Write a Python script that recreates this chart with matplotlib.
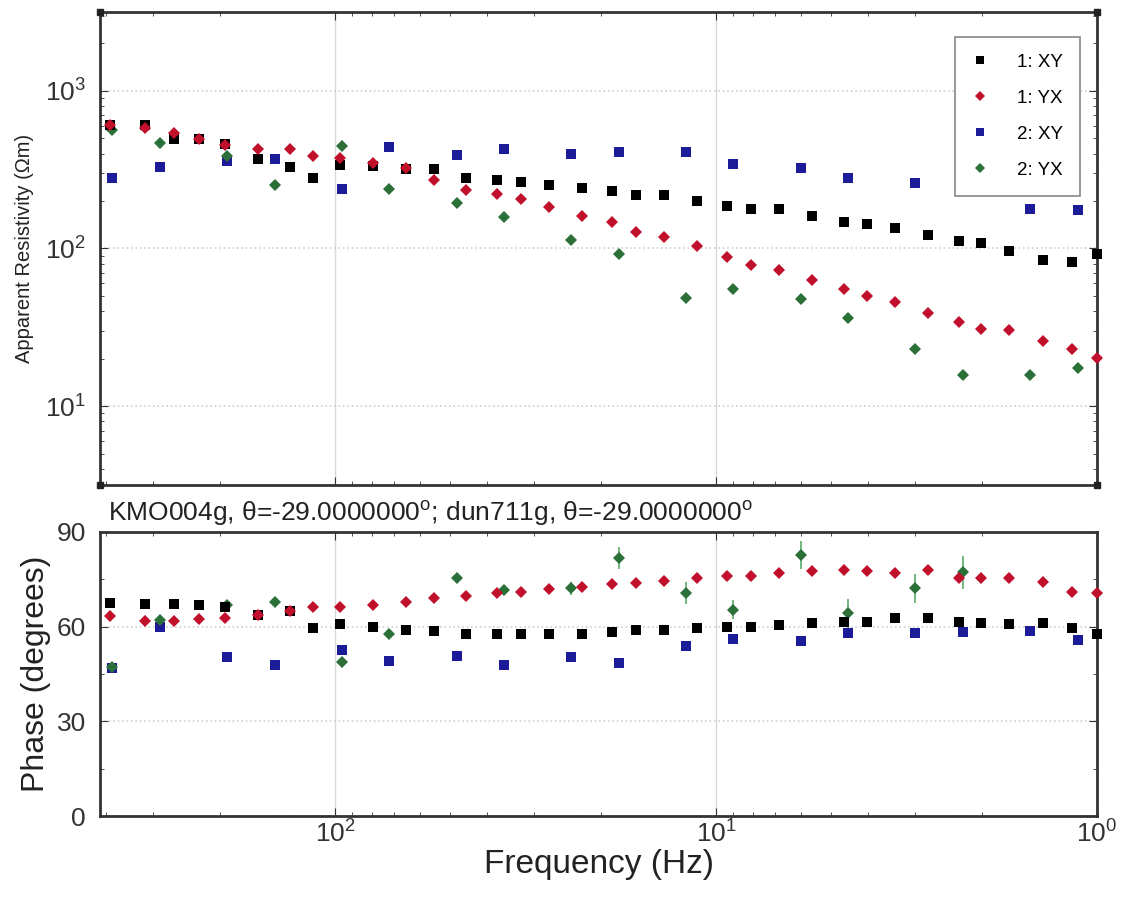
import numpy as np
import matplotlib
matplotlib.use("Agg")
import matplotlib.pyplot as plt

plt.rcParams['font.family'] = ['Liberation Sans', 'DejaVu Sans']
plt.rcParams['mathtext.fontset'] = 'custom'
plt.rcParams['mathtext.rm'] = 'Liberation Sans'
plt.rcParams['mathtext.it'] = 'Liberation Sans'

# ---- data ----
freq1 = [390, 315, 265, 228, 194, 159, 131, 114, 97, 79.4, 65.1, 55, 45.3, 37.6, 32.5,
         27.4, 22.5, 18.8, 16.2, 13.7, 11.2, 9.36, 8.09, 6.84, 5.6, 4.61, 4.02, 3.39,
         2.78, 2.30, 2.02, 1.70, 1.39, 1.16, 1.0]
rho1_xy = [611, 611, 493, 497, 463, 368, 329, 282, 337, 333, 321, 317, 278, 271, 264,
           254, 242, 233, 220, 218, 201, 186, 179, 177, 160, 147, 142, 134, 121, 112,
           108, 96, 85, 82, 92]
rho1_yx = [611, 577, 543, 497, 456, 430, 430, 387, 376, 346, 322, 271, 236, 221, 205,
           184, 160, 147, 128, 118, 103, 88, 79, 73, 63, 55, 50, 46, 39, 34, 30.7, 30.3,
           25.9, 23.1, 20.2]
phase1_xy = [67.6, 67.2, 67.2, 66.9, 66.1, 63.7, 65.1, 59.7, 60.7, 60.0, 58.9, 58.5,
             57.7, 57.7, 57.7, 57.7, 57.7, 58.2, 58.9, 58.9, 59.5, 60.0, 60.0, 60.5,
             61.1, 61.4, 61.5, 62.6, 62.6, 61.6, 61.1, 60.8, 61.1, 59.7, 57.7]
phase1_yx = [63.4, 61.8, 61.8, 62.3, 62.6, 63.7, 65.1, 66.3, 66.1, 66.9, 67.7, 69.0,
             69.7, 70.6, 71.1, 71.9, 72.7, 73.4, 73.9, 74.6, 75.5, 76.1, 76.2, 76.9,
             77.7, 78.0, 77.7, 77.1, 78.0, 75.3, 75.3, 75.3, 74.3, 70.9, 70.6]

freq2 = [384, 288, 192, 144, 96, 72, 48, 36, 24, 18, 12, 9, 6, 4.5, 3, 2.25, 1.5, 1.125]
rho2_xy = [282, 331, 360, 372, 240, 440, 394, 429, 400, 410, 408, 341, 326, 282, 261,
           240, 179, 175]
rho2_yx = [562, 468, 387, 252, 445, 237, 194, 158, 114, 92, 48.5, 55.7, 48, 36.2, 22.9,
           15.8, 15.8, 17.5]
phase2_xy = [46.8, 60.0, 50.5, 47.9, 52.6, 49.2, 50.8, 47.9, 50.3, 48.4, 54.0, 56.0,
             55.6, 57.9, 57.9, 58.2, 58.7, 55.8]
phase2_yx = [47.3, 62.1, 66.9, 67.7, 48.9, 57.6, 75.5, 71.6, 72.1, 81.7, 70.6, 65.3,
             82.7, 64.2, 72.1, 77.2, np.nan, np.nan]
phase2_yx_err = [1.0, 1.0, 1.0, 1.0, 1.0, 1.0, 1.5, 1.5, 2.0, 3.5, 3.5, 3.0, 4.5, 4.5,
                 4.5, 5.2, np.nan, np.nan]

labels = ['1: XY', '1: YX', '2: XY', '2: YX']
title = r'KMO004g, θ=-29.0000000$^o$; dun711g, θ=-29.0000000$^o$'

c_black = '#000000'
c_red = '#c0102c'
c_blue = '#1c1c98'
c_green = '#2a7038'

fig = plt.figure(figsize=(11.25, 9.01), dpi=100)
ax1 = fig.add_axes([0.0889, 0.4617, 0.9751 - 0.0889, 0.9867 - 0.4617])
ax2 = fig.add_axes([0.0889, 0.0943, 0.9751 - 0.0889, 0.4096 - 0.0943], sharex=ax1)

sq = dict(marker='s', ms=6.8, ls='none', mew=0, clip_on=False)
dm = dict(marker='D', ms=6.2, ls='none', mew=0, clip_on=False)

ax1.plot(freq1, rho1_xy, color=c_black, label=labels[0], zorder=3, **sq)
ax1.plot(freq1, rho1_yx, color=c_red, label=labels[1], zorder=3, **dm)
ax1.plot(freq2, rho2_xy, color=c_blue, label=labels[2], zorder=2, **sq)
ax1.plot(freq2, rho2_yx, color=c_green, label=labels[3], zorder=2, **dm)

ax2.plot(freq1, phase1_xy, color=c_black, zorder=3, **sq)
ax2.plot(freq1, phase1_yx, color=c_red, zorder=3, **dm)
ax2.plot(freq2, phase2_xy, color=c_blue, zorder=2, **sq)
ax2.errorbar(freq2, phase2_yx, yerr=phase2_yx_err, color=c_green, ecolor='#5aac6a',
             elinewidth=1.2, capsize=0, zorder=2, **dm)

for ax in (ax1, ax2):
    ax.set_xscale('log')
    ax.grid(True, which='major', axis='x', color='#d8d8d8', lw=1.0, ls='-')
    ax.grid(True, which='major', axis='y', color='#d0d0d0', lw=1.2, ls=':')
    ax.tick_params(which='both', direction='in', labelsize=19, colors='#333333',
                   top=True, right=True)
    ax.tick_params(axis='y', which='major', pad=10)
    ax.tick_params(which='major', length=6)
    ax.tick_params(which='minor', length=3)
    for s in ax.spines.values():
        s.set_color('#333333')
        s.set_linewidth(2.0)
    ax.set_axisbelow(True)

ax1.set_xlim(414, 1.0)
ax1.set_yscale('log')
ax1.set_ylim(10 ** 0.5, 10 ** 3.5)
ax1.tick_params(axis='x', labelbottom=False)
ax1.set_ylabel('Apparent Resistivity (Ωm)', fontsize=14.5, color='#222222', labelpad=8)

# corner marks on the top panel
ax1.plot([0, 1, 0, 1], [0, 0, 1, 1], transform=ax1.transAxes, ls='none', marker='s',
         ms=5, color='#222222', clip_on=False, zorder=5)

leg = ax1.legend(loc='upper right', bbox_to_anchor=(0.983, 0.947), borderaxespad=0,
                 fontsize=13.5, handletextpad=1.6, borderpad=0.9, labelspacing=1.0,
                 numpoints=1, fancybox=False, framealpha=1.0, edgecolor='#888888',
                 markerscale=0.85, handlelength=0.8)
leg.get_frame().set_linewidth(1.2)
leg.set_zorder(10)

ax2.set_ylim(0, 90)
ax2.set_yticks([0, 30, 60, 90])
ax2.set_yticks([15, 45, 75], minor=True)
ax2.set_ylabel('Phase (degrees)', fontsize=23, color='#222222', labelpad=4)
ax2.set_xlabel('Frequency (Hz)', fontsize=24, color='#222222', labelpad=1)
ax2.set_title(title, loc='left', fontsize=19, color='#222222', pad=8, x=0.008)

fig.savefig('out.png', dpi=100)
